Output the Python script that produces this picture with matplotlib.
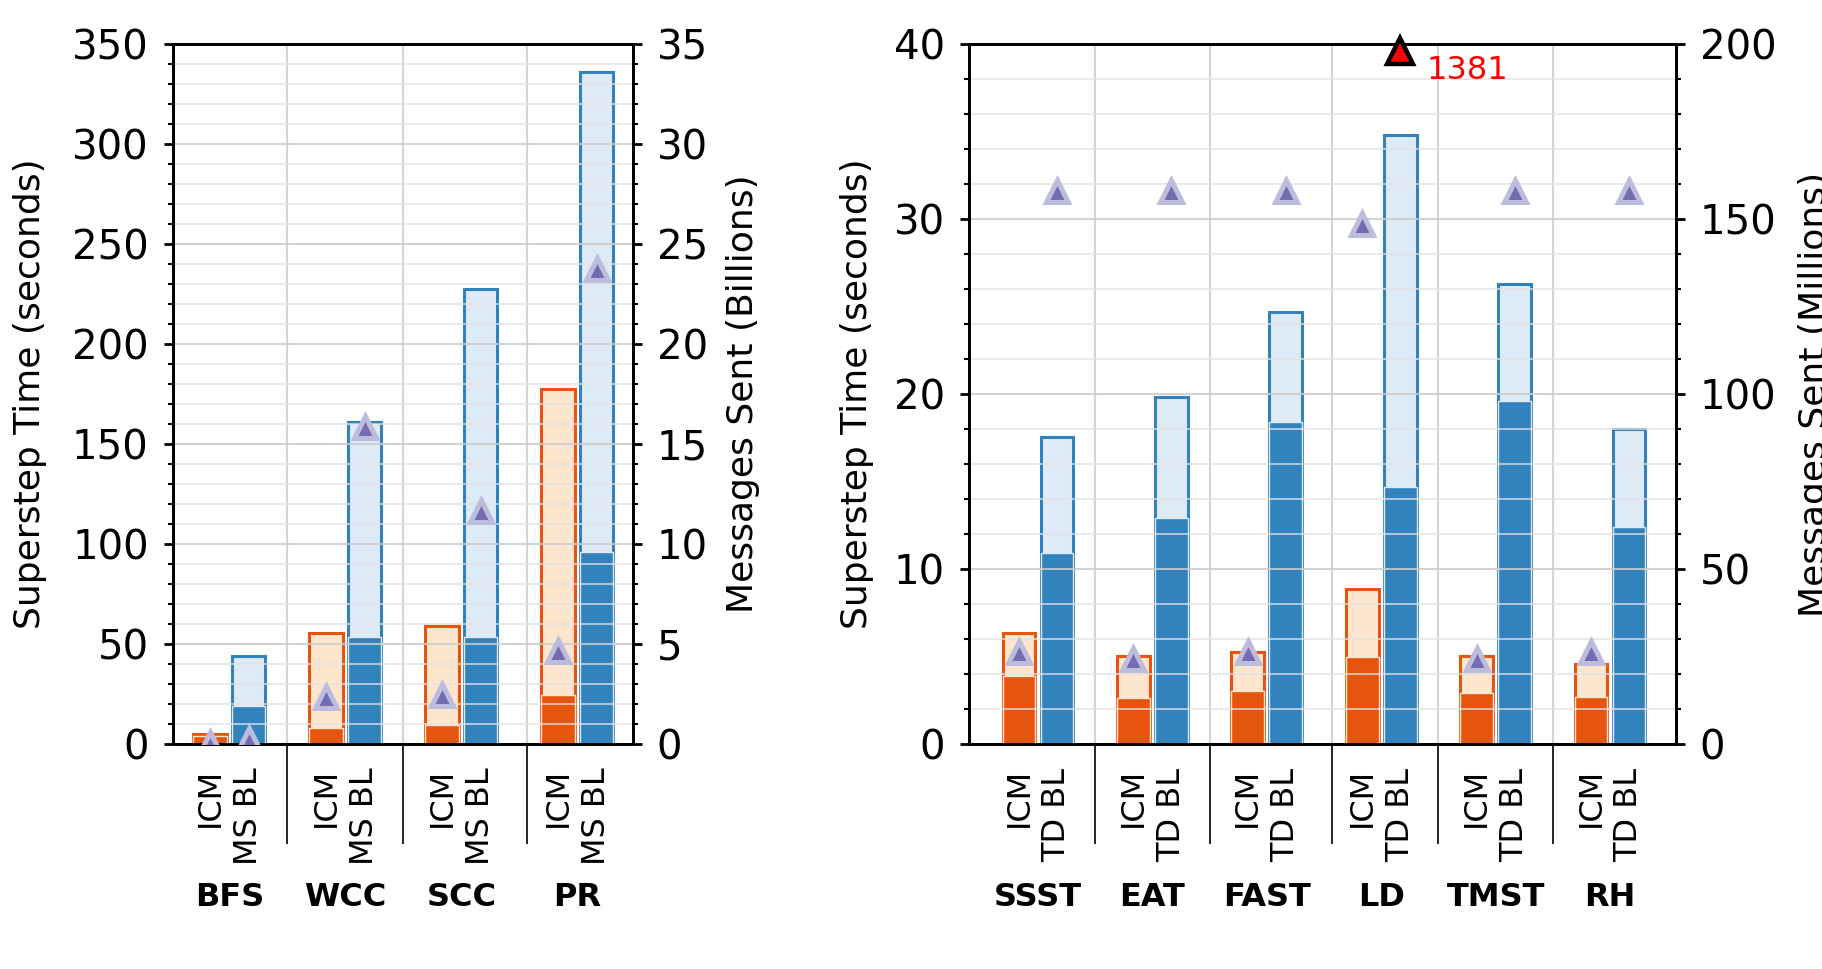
import matplotlib
matplotlib.use('Agg')
import matplotlib.pyplot as plt
from matplotlib.ticker import MultipleLocator

# ---- data ----
left_groups = ['BFS', 'WCC', 'SCC', 'PR']
left_bar_labels = ['ICM', 'MS BL']
left_icm_total = [5.2, 55.3, 59.2, 177.3]
left_icm_compute = [4.2, 8.1, 9.4, 24.6]
left_bl_total = [44.2, 161.2, 227.7, 336.2]
left_bl_compute = [18.8, 53.4, 53.4, 96.0]
left_icm_msgs = [0.05, 2.37, 2.46, 4.65]      # billions
left_bl_msgs = [0.27, 15.86, 11.63, 23.74]

right_groups = ['SSST', 'EAT', 'FAST', 'LD', 'TMST', 'RH']
right_bar_labels = ['ICM', 'TD BL']
right_icm_total = [6.37, 5.03, 5.26, 8.87, 5.03, 4.6]
right_icm_compute = [3.87, 2.63, 3.03, 5.0, 2.92, 2.68]
right_bl_total = [17.53, 19.8, 24.7, 34.8, 26.3, 18.0]
right_bl_compute = [10.92, 12.9, 18.4, 14.7, 19.6, 12.4]
right_icm_msgs = [26.2, 24.3, 26.3, 148.7, 24.3, 26.2]   # millions
right_bl_msgs = [158, 158, 158, 1381, 158, 158]

DARK_OR, LIGHT_OR = '#e6550d', '#fee6ce'
DARK_BL, LIGHT_BL = '#3182bd', '#deebf7'
TRI_IN, TRI_OUT = '#756bb1', '#bcbddc'

NARROW = ['Liberation Sans Narrow', 'DejaVu Sans']
WIDTH = 0.86


def draw_panel(ax, groups, bar_labels, icm_t, icm_c, bl_t, bl_c, icm_m, bl_m,
               seps, xlim, ylim, ymajor, yminor, mlim, mmajor, mminor,
               ylabel, mlabel, ylab_x, mlab_x):
    x_icm = [3 * i for i in range(len(groups))]
    x_bl = [3 * i + 1 for i in range(len(groups))]

    ax.bar(x_icm, icm_t, WIDTH, color=LIGHT_OR, edgecolor=DARK_OR, lw=2.2, zorder=1)
    ax.bar(x_icm, icm_c, WIDTH, color=DARK_OR, edgecolor=LIGHT_OR, lw=1.0, zorder=1)
    ax.bar(x_bl, bl_t, WIDTH, color=LIGHT_BL, edgecolor=DARK_BL, lw=2.2, zorder=1)
    ax.bar(x_bl, bl_c, WIDTH, color=DARK_BL, edgecolor=LIGHT_BL, lw=1.0, zorder=1)

    ax.set_xlim(*xlim)
    ax.set_ylim(*ylim)
    ax.yaxis.set_major_locator(MultipleLocator(ymajor))
    ax.yaxis.set_minor_locator(MultipleLocator(yminor))
    ax.set_xticks(seps)
    ax.set_xticklabels([])
    ax.tick_params(axis='x', which='major', length=72, width=1.2, direction='out')
    ax.tick_params(axis='y', which='major', labelsize=29, length=6.5, width=2, pad=11)
    ax.tick_params(axis='y', which='minor', length=3.5, width=1.5)
    ax.grid(True, which='major', axis='y', color='#cccccc', lw=1.5, alpha=0.85)
    ax.grid(True, which='minor', axis='y', color='#e2e2e2', lw=1.2, alpha=0.85)
    ax.grid(True, which='major', axis='x', color='#d4d4d4', lw=1.5)
    for s in ax.spines.values():
        s.set_linewidth(2)
    ax.set_ylabel(ylabel, fontsize=26)
    ax.yaxis.set_label_coords(ylab_x, 0.5)

    # bar and group labels below the axis
    for i, g in enumerate(groups):
        for xb, lab in zip((x_icm[i], x_bl[i]), bar_labels):
            ax.annotate(lab, xy=(xb, 0), xycoords=('data', 'axes fraction'),
                        xytext=(0, -17), textcoords='offset points',
                        rotation=90, ha='center', va='top', fontsize=23,
                        family=NARROW)
        ax.annotate(g, xy=(x_icm[i] + 0.5, 0), xycoords=('data', 'axes fraction'),
                    xytext=(0, -117), textcoords='offset points',
                    ha='center', va='baseline', fontsize=23, fontweight='bold',
                    family=NARROW)

    # messages sent on the secondary axis
    ax2 = ax.twinx()
    ax2.set_ylim(*mlim)
    ax2.yaxis.set_major_locator(MultipleLocator(mmajor))
    ax2.yaxis.set_minor_locator(MultipleLocator(mminor))
    ax2.tick_params(axis='y', which='major', labelsize=29, length=6.5, width=2, pad=10.5)
    ax2.tick_params(axis='y', which='minor', length=3.5, width=1.5)
    for s in ax2.spines.values():
        s.set_linewidth(2)
    ax2.set_ylabel(mlabel, fontsize=26)
    ax2.yaxis.set_label_coords(mlab_x, 0.5)

    top = mlim[1]
    for xs, ms in ((x_icm, icm_m), (x_bl, bl_m)):
        for xv, mv in zip(xs, ms):
            if mv > top:
                ax2.plot(xv, top * 0.99, marker='^', ms=19, mfc='red', mec='black',
                         mew=3.2, clip_on=False, zorder=10)
                ax2.annotate(f'{mv:g}', xy=(xv, top * 0.99), xytext=(19, -14),
                             textcoords='offset points', color='red', fontsize=23,
                             ha='left', va='center', annotation_clip=False)
            else:
                ax2.plot(xv, mv, marker='^', ms=16.5, mfc=TRI_IN, mec=TRI_OUT,
                         mew=3.6, zorder=5)
    return ax2


fig = plt.figure(figsize=(18.22, 9.69), dpi=100)
ax_l = fig.add_axes([173 / 1822, 225 / 969, 460 / 1822, 700 / 969])
ax_r = fig.add_axes([969 / 1822, 225 / 969, 707 / 1822, 700 / 969])

draw_panel(ax_l, left_groups, left_bar_labels, left_icm_total, left_icm_compute,
           left_bl_total, left_bl_compute, left_icm_msgs, left_bl_msgs,
           seps=[2, 5, 8.2], xlim=(-0.96, 10.94), ylim=(0, 350), ymajor=50, yminor=10,
           mlim=(0, 35), mmajor=5, mminor=1,
           ylabel='Superstep Time (seconds)', mlabel='Messages Sent (Billions)',
           ylab_x=-0.274, mlab_x=1.202)

draw_panel(ax_r, right_groups, right_bar_labels, right_icm_total, right_icm_compute,
           right_bl_total, right_bl_compute, right_icm_msgs, right_bl_msgs,
           seps=[2, 5, 8.2, 11, 14], xlim=(-1.31, 17.23), ylim=(0, 40), ymajor=10, yminor=2,
           mlim=(0, 200), mmajor=50, mminor=10,
           ylabel='Superstep Time (seconds)', mlabel='Messages Sent (Millions)',
           ylab_x=-0.134, mlab_x=1.173)

fig.savefig('out.png', dpi=100)
